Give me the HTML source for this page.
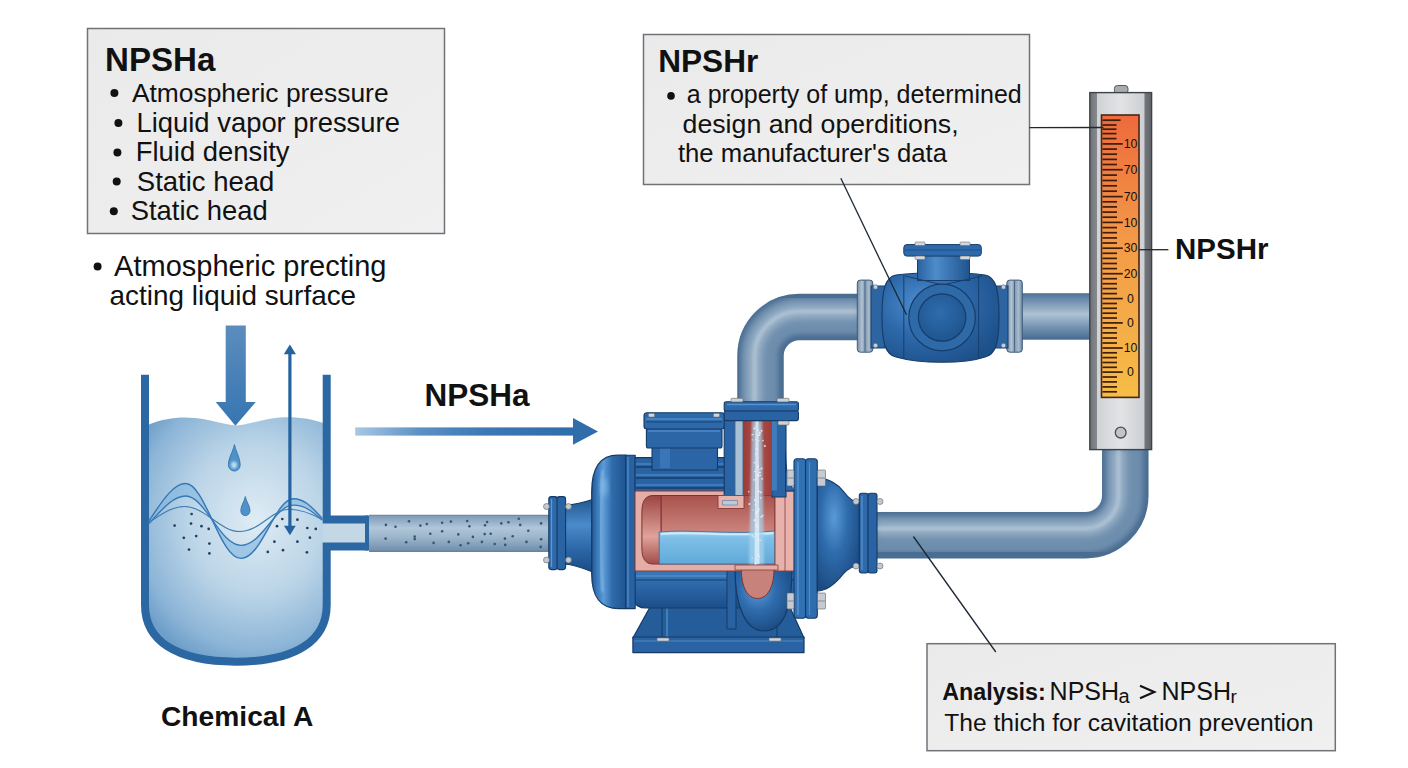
<!DOCTYPE html>
<html><head><meta charset="utf-8">
<style>
html,body{margin:0;padding:0;background:#ffffff;}
body{width:1408px;height:768px;overflow:hidden;position:relative;font-family:"Liberation Sans",sans-serif;}
svg{position:absolute;left:0;top:0;}
text{font-family:"Liberation Sans",sans-serif;fill:#111;}
.b{font-weight:bold;}
</style></head>
<body>
<svg width="1408" height="768" viewBox="0 0 1408 768">
<defs>
  <linearGradient id="boxg" x1="0" y1="0" x2="1" y2="1">
    <stop offset="0" stop-color="#eaeaea"/><stop offset="1" stop-color="#f0f0f0"/>
  </linearGradient>

  <radialGradient id="liq" cx="0.5" cy="0.42" r="0.62">
    <stop offset="0" stop-color="#dfecf4"/><stop offset="0.5" stop-color="#bad4e7"/><stop offset="0.85" stop-color="#8db5d7"/><stop offset="1" stop-color="#6f9fc9"/>
  </radialGradient>
  <linearGradient id="arrowDown" x1="0" y1="0" x2="0" y2="1">
    <stop offset="0" stop-color="#5c8cbd"/><stop offset="1" stop-color="#3676b2"/>
  </linearGradient>
  <linearGradient id="arrowRight" x1="0" y1="0" x2="1" y2="0">
    <stop offset="0" stop-color="#a8c8e2"/><stop offset="0.3" stop-color="#5a90c4"/><stop offset="0.6" stop-color="#3c78b4"/><stop offset="1" stop-color="#2f6dab"/>
  </linearGradient>
  <linearGradient id="sucPipe" x1="0" y1="0" x2="0" y2="1">
    <stop offset="0" stop-color="#7b98b4"/><stop offset="0.35" stop-color="#b0c6d9"/><stop offset="0.6" stop-color="#9db6cb"/><stop offset="1" stop-color="#6e8dab"/>
  </linearGradient>
  <linearGradient id="pipeH" x1="0" y1="0" x2="0" y2="1">
    <stop offset="0" stop-color="#4e7398"/><stop offset="0.2" stop-color="#7896b3"/><stop offset="0.45" stop-color="#aec2d4"/><stop offset="0.7" stop-color="#7a98b5"/><stop offset="1" stop-color="#456a90"/>
  </linearGradient>
  <linearGradient id="pipeV" x1="0" y1="0" x2="1" y2="0">
    <stop offset="0" stop-color="#4e7398"/><stop offset="0.2" stop-color="#7e9bb7"/><stop offset="0.4" stop-color="#b0c4d6"/><stop offset="0.7" stop-color="#6f8fae"/><stop offset="1" stop-color="#44698f"/>
  </linearGradient>
  <linearGradient id="gaugeWin" x1="0" y1="0" x2="0" y2="1">
    <stop offset="0" stop-color="#ee6a3c"/><stop offset="0.45" stop-color="#f39a48"/><stop offset="1" stop-color="#f6bd45"/>
  </linearGradient>
  <linearGradient id="gaugeHouse" x1="0" y1="0" x2="1" y2="0">
    <stop offset="0" stop-color="#6f7276"/><stop offset="0.11" stop-color="#85888c"/><stop offset="0.12" stop-color="#d0d2d5"/><stop offset="0.5" stop-color="#e2e3e5"/><stop offset="0.88" stop-color="#cdcfd2"/><stop offset="0.89" stop-color="#73767a"/><stop offset="1" stop-color="#606367"/>
  </linearGradient>

  <filter id="blur1" x="-20%" y="-20%" width="140%" height="140%"><feGaussianBlur stdDeviation="1"/></filter>
  <filter id="blur2" x="-20%" y="-20%" width="140%" height="140%"><feGaussianBlur stdDeviation="2.5"/></filter>
  <filter id="blur3" x="-20%" y="-20%" width="140%" height="140%"><feGaussianBlur stdDeviation="4"/></filter>
  <radialGradient id="valveBody" cx="0.35" cy="0.35" r="0.75">
    <stop offset="0" stop-color="#4f8fd0"/><stop offset="0.5" stop-color="#2c68a9"/><stop offset="1" stop-color="#1d4f88"/>
  </radialGradient>
  <radialGradient id="valveFace" cx="0.45" cy="0.4" r="0.6">
    <stop offset="0" stop-color="#2e6cad"/><stop offset="1" stop-color="#1f558f"/>
  </radialGradient>
  <linearGradient id="bonnet" x1="0" y1="0" x2="1" y2="0">
    <stop offset="0" stop-color="#2a62a0"/><stop offset="0.35" stop-color="#4d8ccb"/><stop offset="1" stop-color="#1f548e"/>
  </linearGradient>

  <linearGradient id="pbV" x1="0" y1="0" x2="0" y2="1">
    <stop offset="0" stop-color="#3c7bbd"/><stop offset="0.5" stop-color="#2a64a4"/><stop offset="1" stop-color="#1c4e88"/>
  </linearGradient>
  <linearGradient id="pbH" x1="0" y1="0" x2="1" y2="0">
    <stop offset="0" stop-color="#1f548f"/><stop offset="0.35" stop-color="#4f8fcd"/><stop offset="0.6" stop-color="#2d68a8"/><stop offset="1" stop-color="#1c4d85"/>
  </linearGradient>
  <linearGradient id="coverG" x1="0" y1="0" x2="1" y2="0">
    <stop offset="0" stop-color="#22558f"/><stop offset="0.12" stop-color="#3472b3"/><stop offset="0.35" stop-color="#5c9bd6"/><stop offset="0.6" stop-color="#2f6bab"/><stop offset="1" stop-color="#1f5590"/>
  </linearGradient>
  <linearGradient id="coneG" x1="0" y1="0" x2="0" y2="1">
    <stop offset="0" stop-color="#22578f"/><stop offset="0.35" stop-color="#4b8acb"/><stop offset="0.7" stop-color="#2b65a5"/><stop offset="1" stop-color="#1b4c84"/>
  </linearGradient>
  <radialGradient id="voluteG" cx="0.4" cy="0.35" r="0.7">
    <stop offset="0" stop-color="#5a9ad8"/><stop offset="0.45" stop-color="#2f6cad"/><stop offset="1" stop-color="#1a4a80"/>
  </radialGradient>
  <linearGradient id="redCyl" x1="0" y1="0" x2="0" y2="1">
    <stop offset="0" stop-color="#a9524d"/><stop offset="0.6" stop-color="#d08a83"/><stop offset="1" stop-color="#b56660"/>
  </linearGradient>
  <linearGradient id="redCap" x1="0" y1="0" x2="0" y2="1">
    <stop offset="0" stop-color="#9c4542"/><stop offset="0.6" stop-color="#e0a29b"/><stop offset="1" stop-color="#a24c48"/>
  </linearGradient>
  <linearGradient id="waterG" x1="0" y1="0" x2="0" y2="1">
    <stop offset="0" stop-color="#a8d6f0"/><stop offset="0.2" stop-color="#7fc0e8"/><stop offset="1" stop-color="#5faad9"/>
  </linearGradient>
  <linearGradient id="chanG" x1="0" y1="0" x2="1" y2="0">
    <stop offset="0" stop-color="#9a3b37"/><stop offset="0.5" stop-color="#b0504a"/><stop offset="1" stop-color="#9b3d39"/>
  </linearGradient>
  <linearGradient id="vflange" x1="0" y1="0" x2="1" y2="0">
    <stop offset="0" stop-color="#7690aa"/><stop offset="0.3" stop-color="#b3c3d2"/><stop offset="0.5" stop-color="#7f98b0"/><stop offset="0.75" stop-color="#a9bccd"/><stop offset="1" stop-color="#6f89a3"/>
  </linearGradient>
</defs>


<!-- ===== TANK ===== -->
<g id="tank">
  <path d="M145,424.5 L149,424.5 C165,418 180,416.5 195,418 C212,419.5 225,425 236,425.5 C248,425 262,419 280,417.5 C298,416.5 312,419 323,423 L323,546 L366,546 L366,523 L323,523 L326.7,546 L326.7,605 C326.7,640 297,661.7 236,661.7 C175,661.7 145,640 145,605 L145,424.5 Z" fill="url(#liq)"/>
  <rect x="323" y="523" width="44" height="23" fill="#c4d7e5"/>
  <path d="M145,374.7 V605 C145,640 175,661.7 236,661.7 C297,661.7 326.7,640 326.7,605 V546.5 H368" fill="none" stroke="#2b67a3" stroke-width="8"/>
  <path d="M326.7,374.7 V519.5 H368" fill="none" stroke="#2b67a3" stroke-width="8"/>
  <line x1="367" y1="515.5" x2="367" y2="550.5" stroke="#2b67a3" stroke-width="4"/>
  <!-- waves -->
  <path d="M148.9,521 C160,505 172,483.5 185.7,483.5 C205,483.5 220,558.4 240.9,558.4 C262,558.4 275,498.7 293.5,498.7 C306,498.7 314,510 322.4,518.4 L322.4,520.3 C314,513 306,505.2 293.5,505.2 C275,505.2 262,545.3 240.9,545.3 C220,545.3 205,496 185.7,496 C172,496 160,512 148.9,523.6 Z" fill="#7fb6e0" opacity="0.6"/>
  <path d="M148.9,521 C160,505 172,483.5 185.7,483.5 C205,483.5 220,558.4 240.9,558.4 C262,558.4 275,498.7 293.5,498.7 C306,498.7 314,510 322.4,518.4" fill="none" stroke="#3677b6" stroke-width="1.4"/>
  <path d="M148.9,523.6 C160,512 172,496 185.7,496 C205,496 220,545.3 240.9,545.3 C262,545.3 275,505.2 293.5,505.2 C306,505.2 314,513 322.4,520.3" fill="none" stroke="#3677b6" stroke-width="1.3"/>
  <path d="M148.9,522.3 C162,514 172,506.5 184.4,506.5 C205,506.5 220,531.5 239.6,531.5 C260,531.5 272,509.2 289.5,509.2 C303,509.2 314,515 322.4,519.7" fill="none" stroke="#3f7bb3" stroke-width="1.1"/>
  <g fill="#233f5c">
<circle cx="174.6" cy="525.6" r="1.35"/><circle cx="191.6" cy="514.0" r="1.35"/><circle cx="191.0" cy="523.6" r="1.35"/><circle cx="201.5" cy="526.2" r="1.35"/><circle cx="208.7" cy="528.9" r="1.35"/><circle cx="183.8" cy="537.8" r="1.35"/><circle cx="196.2" cy="536.1" r="1.35"/><circle cx="209.4" cy="543.6" r="1.35"/><circle cx="189.0" cy="549.6" r="1.35"/><circle cx="209.4" cy="553.4" r="1.35"/><circle cx="282.3" cy="519.0" r="1.35"/><circle cx="297.4" cy="519.7" r="1.35"/><circle cx="277.0" cy="526.2" r="1.35"/><circle cx="307.3" cy="528.0" r="1.35"/><circle cx="315.8" cy="528.9" r="1.35"/><circle cx="309.9" cy="537.7" r="1.35"/><circle cx="274.4" cy="541.7" r="1.35"/><circle cx="297.4" cy="541.7" r="1.35"/><circle cx="267.8" cy="551.9" r="1.35"/><circle cx="283.0" cy="550.2" r="1.35"/><circle cx="306.9" cy="552.3" r="1.35"/>
  </g>
  <!-- drops -->
  <path d="M234.4,444.6 C236,452 240.2,458 240.2,464.5 C240.2,468.5 237.6,471 234.4,471 C231.2,471 228.4,468.5 228.4,464.5 C228.4,458 232.8,452 234.4,444.6 Z" fill="#4f92c9" stroke="#2f6fae" stroke-width="0.8"/>
  <ellipse cx="234" cy="465" rx="3" ry="3.5" fill="#cfe8f7" opacity="0.85" filter="url(#blur1)"/>
  <path d="M245.3,496.5 C246.5,502 250,506 250,510.5 C250,513.5 248,515.6 245.3,515.6 C242.6,515.6 240.8,513.5 240.8,510.5 C240.8,506 244.1,502 245.3,496.5 Z" fill="#4f92c9" stroke="#2f6fae" stroke-width="0.8"/>
  <!-- down arrow -->
  <path d="M225.7,325.5 H245.8 V402 H255.8 L235.4,425.8 L215.7,402 H225.7 Z" fill="url(#arrowDown)"/>
  <!-- double arrow -->
  <rect x="288.3" y="353" width="3.2" height="174" fill="#2563a0"/>
  <path d="M289.9,344.6 L296,354.3 L283.8,354.3 Z" fill="#2563a0"/>
  <path d="M289.9,535.3 L295.8,525.7 L284,525.7 Z" fill="#2563a0"/>
</g>

<!-- NPSHa arrow -->
<rect x="355.2" y="427.4" width="218" height="8.2" fill="url(#arrowRight)"/>
<path d="M573,418 L598,431.4 L573,444.7 Z" fill="#2f6dab"/>

<!-- suction pipe -->
<rect x="369" y="514.9" width="181" height="36.9" fill="url(#sucPipe)"/>
<line x1="369" y1="515.3" x2="550" y2="515.3" stroke="#6f879d" stroke-width="0.9"/>
<line x1="369" y1="551.4" x2="550" y2="551.4" stroke="#5f7a94" stroke-width="0.9"/>
<g fill="#34567a">
<circle cx="385.9" cy="524.9" r="1.3"/><circle cx="395.5" cy="526.7" r="1.3"/><circle cx="409.0" cy="521.3" r="1.3"/><circle cx="420.4" cy="525.6" r="1.3"/><circle cx="426.8" cy="524.1" r="1.3"/><circle cx="442.1" cy="522.7" r="1.3"/><circle cx="450.9" cy="521.6" r="1.3"/><circle cx="467.2" cy="521.0" r="1.3"/><circle cx="469.4" cy="526.3" r="1.3"/><circle cx="485.0" cy="525.3" r="1.3"/><circle cx="487.1" cy="522.0" r="1.3"/><circle cx="501.3" cy="523.4" r="1.3"/><circle cx="508.4" cy="522.3" r="1.3"/><circle cx="518.8" cy="518.8" r="1.3"/><circle cx="520.2" cy="524.9" r="1.3"/><circle cx="541.1" cy="523.4" r="1.3"/><circle cx="430.3" cy="533.8" r="1.3"/><circle cx="442.1" cy="531.2" r="1.3"/><circle cx="458.3" cy="534.4" r="1.3"/><circle cx="484.7" cy="534.1" r="1.3"/><circle cx="490.7" cy="533.8" r="1.3"/><circle cx="528.3" cy="530.8" r="1.3"/><circle cx="385.6" cy="538.6" r="1.3"/><circle cx="414.7" cy="536.6" r="1.3"/><circle cx="414.7" cy="539.1" r="1.3"/><circle cx="406.2" cy="542.3" r="1.3"/><circle cx="433.6" cy="542.9" r="1.3"/><circle cx="448.8" cy="541.9" r="1.3"/><circle cx="460.6" cy="545.2" r="1.3"/><circle cx="468.2" cy="543.3" r="1.3"/><circle cx="472.9" cy="536.9" r="1.3"/><circle cx="481.9" cy="541.9" r="1.3"/><circle cx="494.7" cy="544.0" r="1.3"/><circle cx="504.9" cy="538.6" r="1.3"/><circle cx="512.7" cy="536.2" r="1.3"/><circle cx="505.2" cy="544.9" r="1.3"/><circle cx="526.5" cy="541.9" r="1.3"/><circle cx="541.1" cy="539.2" r="1.3"/><circle cx="540.7" cy="546.9" r="1.3"/>
</g>
<!-- ===== PIPES ===== -->
<g id="pipes">
  <!-- discharge elbow: vertical x 737.3-783.8, horizontal y 293.7-340.2 -->
  <path d="M760.5,405 V355.7 A38.8,38.8 0 0 1 799.3,317 H860" fill="none" stroke="#4a6d91" stroke-width="46.5"/>
  <path d="M759.5,405 V355.7 A39.8,39.8 0 0 1 799.3,316 H860" fill="none" stroke="#6e8eae" stroke-width="37" filter="url(#blur2)"/>
  <path d="M754.5,405 V355.7 A44.8,44.8 0 0 1 799.3,311.5 H860" fill="none" stroke="#a3b9cd" stroke-width="12" filter="url(#blur3)"/>
  <path d="M754.5,405 V355.7 A44.8,44.8 0 0 1 799.3,311.5 H860" fill="none" stroke="#b5c8d8" stroke-width="4" opacity="0.6" filter="url(#blur1)"/>
  <!-- valve to gauge pipe -->
  <rect x="1018" y="293.2" width="73" height="46.5" fill="url(#pipeH)"/>
  <!-- outlet pipe: horizontal y 512-558.5, vertical x 1103-1147.6 -->
  <path d="M875,535.25 H1085.4 A39.8,39.8 0 0 0 1125.3,495.5 V448" fill="none" stroke="#4a6d91" stroke-width="46.5"/>
  <path d="M875,534.25 H1085.4 A38.8,38.8 0 0 0 1124.3,495.5 V448" fill="none" stroke="#6e8eae" stroke-width="37" filter="url(#blur2)"/>
  <path d="M875,528.5 H1085.4 A33,33 0 0 0 1118.5,495.5 V448" fill="none" stroke="#a3b9cd" stroke-width="12" filter="url(#blur3)"/>
  <path d="M875,528.5 H1085.4 A33,33 0 0 0 1118.5,495.5 V448" fill="none" stroke="#b5c8d8" stroke-width="4" opacity="0.6" filter="url(#blur1)"/>
</g>

<!-- ===== GAUGE ===== -->
<g id="gauge">
  <rect x="1114.4" y="85.5" width="13.6" height="8" rx="3" fill="#a9acaf" stroke="#55585c" stroke-width="1"/>
  <rect x="1089.8" y="92.6" width="61.8" height="357" fill="url(#gaugeHouse)" stroke="#3f4246" stroke-width="1.4"/>
  <rect x="1101.5" y="115" width="37.5" height="282.4" fill="url(#gaugeWin)" stroke="#4a2616" stroke-width="1.6"/>
  <circle cx="1120.7" cy="432.6" r="5.4" fill="#c2c4c7" stroke="#4a4d51" stroke-width="1.3"/>
  <g stroke="#3d1c0c" stroke-width="1.7">
<line x1="1102.5" y1="143.9" x2="1122.8" y2="143.9"/><line x1="1102.5" y1="149.1" x2="1117.0" y2="149.1"/><line x1="1102.5" y1="154.2" x2="1117.0" y2="154.2"/><line x1="1102.5" y1="159.4" x2="1117.0" y2="159.4"/><line x1="1102.5" y1="164.5" x2="1117.0" y2="164.5"/><line x1="1102.5" y1="169.7" x2="1122.8" y2="169.7"/><line x1="1102.5" y1="175.1" x2="1117.0" y2="175.1"/><line x1="1102.5" y1="180.5" x2="1117.0" y2="180.5"/><line x1="1102.5" y1="185.8" x2="1117.0" y2="185.8"/><line x1="1102.5" y1="191.2" x2="1117.0" y2="191.2"/><line x1="1102.5" y1="196.6" x2="1122.8" y2="196.6"/><line x1="1102.5" y1="201.8" x2="1117.0" y2="201.8"/><line x1="1102.5" y1="206.9" x2="1117.0" y2="206.9"/><line x1="1102.5" y1="212.1" x2="1117.0" y2="212.1"/><line x1="1102.5" y1="217.2" x2="1117.0" y2="217.2"/><line x1="1102.5" y1="222.4" x2="1122.8" y2="222.4"/><line x1="1102.5" y1="227.6" x2="1117.0" y2="227.6"/><line x1="1102.5" y1="232.7" x2="1117.0" y2="232.7"/><line x1="1102.5" y1="237.9" x2="1117.0" y2="237.9"/><line x1="1102.5" y1="243.0" x2="1117.0" y2="243.0"/><line x1="1102.5" y1="248.2" x2="1122.8" y2="248.2"/><line x1="1102.5" y1="253.3" x2="1117.0" y2="253.3"/><line x1="1102.5" y1="258.4" x2="1117.0" y2="258.4"/><line x1="1102.5" y1="263.5" x2="1117.0" y2="263.5"/><line x1="1102.5" y1="268.6" x2="1117.0" y2="268.6"/><line x1="1102.5" y1="273.7" x2="1122.8" y2="273.7"/><line x1="1102.5" y1="278.7" x2="1117.0" y2="278.7"/><line x1="1102.5" y1="283.7" x2="1117.0" y2="283.7"/><line x1="1102.5" y1="288.6" x2="1117.0" y2="288.6"/><line x1="1102.5" y1="293.6" x2="1117.0" y2="293.6"/><line x1="1102.5" y1="298.6" x2="1122.8" y2="298.6"/><line x1="1102.5" y1="303.5" x2="1117.0" y2="303.5"/><line x1="1102.5" y1="308.3" x2="1117.0" y2="308.3"/><line x1="1102.5" y1="313.2" x2="1117.0" y2="313.2"/><line x1="1102.5" y1="318.0" x2="1117.0" y2="318.0"/><line x1="1102.5" y1="322.9" x2="1122.8" y2="322.9"/><line x1="1102.5" y1="327.9" x2="1117.0" y2="327.9"/><line x1="1102.5" y1="332.9" x2="1117.0" y2="332.9"/><line x1="1102.5" y1="338.0" x2="1117.0" y2="338.0"/><line x1="1102.5" y1="343.0" x2="1117.0" y2="343.0"/><line x1="1102.5" y1="348.0" x2="1122.8" y2="348.0"/><line x1="1102.5" y1="352.8" x2="1117.0" y2="352.8"/><line x1="1102.5" y1="357.6" x2="1117.0" y2="357.6"/><line x1="1102.5" y1="362.5" x2="1117.0" y2="362.5"/><line x1="1102.5" y1="367.3" x2="1117.0" y2="367.3"/><line x1="1102.5" y1="372.1" x2="1122.8" y2="372.1"/><line x1="1102.5" y1="377.0" x2="1117.0" y2="377.0"/><line x1="1102.5" y1="381.9" x2="1117.0" y2="381.9"/><line x1="1102.5" y1="386.9" x2="1117.0" y2="386.9"/><line x1="1102.5" y1="391.8" x2="1117.0" y2="391.8"/><line x1="1102.5" y1="120.2" x2="1120.6" y2="120.2"/><line x1="1102.5" y1="125" x2="1116.5" y2="125"/><line x1="1102.5" y1="129.2" x2="1116.5" y2="129.2"/><line x1="1102.5" y1="133.6" x2="1116.5" y2="133.6"/><line x1="1102.5" y1="138.6" x2="1116.5" y2="138.6"/>
  </g>
  <g>
<text x="1130.5" y="148.1" fill="#3a1a0a" font-size="12.3" text-anchor="middle">10</text>
<text x="1130.5" y="173.9" fill="#3a1a0a" font-size="12.3" text-anchor="middle">70</text>
<text x="1130.5" y="200.8" fill="#3a1a0a" font-size="12.3" text-anchor="middle">70</text>
<text x="1130.5" y="226.6" fill="#3a1a0a" font-size="12.3" text-anchor="middle">10</text>
<text x="1130.5" y="252.4" fill="#3a1a0a" font-size="12.3" text-anchor="middle">30</text>
<text x="1130.5" y="277.9" fill="#3a1a0a" font-size="12.3" text-anchor="middle">20</text>
<text x="1130.5" y="302.8" fill="#3a1a0a" font-size="12.3" text-anchor="middle">0</text>
<text x="1130.5" y="327.1" fill="#3a1a0a" font-size="12.3" text-anchor="middle">0</text>
<text x="1130.5" y="352.2" fill="#3a1a0a" font-size="12.3" text-anchor="middle">10</text>
<text x="1130.5" y="376.3" fill="#3a1a0a" font-size="12.3" text-anchor="middle">0</text>
  </g>
</g>

<!-- ===== VALVE ===== -->
<g id="valve">
  <!-- flanges -->
  <rect x="857.3" y="280.1" width="15.5" height="72.1" rx="3" fill="url(#vflange)" stroke="#3e5c7a" stroke-width="1"/>
  <line x1="865" y1="281" x2="865" y2="351.5" stroke="#4a6886" stroke-width="1"/>
  <rect x="1006.8" y="280.1" width="15.5" height="72.1" rx="3" fill="url(#vflange)" stroke="#3e5c7a" stroke-width="1"/>
  <line x1="1014.5" y1="281" x2="1014.5" y2="351.5" stroke="#4a6886" stroke-width="1"/>
  <!-- necks -->
  <rect x="871" y="286" width="14" height="62" fill="#2d65a3" stroke="#173f6d" stroke-width="1"/>
  <rect x="995" y="286" width="13" height="62" fill="#2d65a3" stroke="#173f6d" stroke-width="1"/>
  <!-- body -->
  <path d="M896,275 C920,272 965,272 985,275 C996,277 999,290 999,316 C999,343 996,354 985,357 C965,364 920,364 896,357 C885,354 882,343 882,316 C882,290 885,277 896,275 Z" fill="url(#valveBody)" stroke="#163d69" stroke-width="1.2"/>
  <line x1="903.8" y1="275" x2="903.8" y2="359" stroke="#173f6d" stroke-width="1"/>
  <line x1="978.6" y1="275" x2="978.6" y2="359" stroke="#173f6d" stroke-width="1"/>
  <!-- bonnet -->
  <rect x="917.5" y="254.5" width="52" height="26" fill="url(#bonnet)" stroke="#173f6d" stroke-width="1"/>
  <path d="M905,276 L943,285 L982,276" fill="none" stroke="#173f6d" stroke-width="1"/>
  <rect x="903.8" y="244.6" width="77.5" height="11.5" rx="3" fill="#2e6aab" stroke="#163d69" stroke-width="1"/>
  <line x1="905" y1="250" x2="980" y2="250" stroke="#1c4a80" stroke-width="0.8"/>
  <rect x="915" y="242" width="10" height="3.5" rx="1" fill="#d4d8dc" stroke="#6b7076" stroke-width="0.6"/>
  <rect x="960" y="242" width="10" height="3.5" rx="1" fill="#d4d8dc" stroke="#6b7076" stroke-width="0.6"/>
  <rect x="915" y="256" width="10" height="3.5" rx="1" fill="#d4d8dc" stroke="#6b7076" stroke-width="0.6"/>
  <rect x="960" y="256" width="10" height="3.5" rx="1" fill="#d4d8dc" stroke="#6b7076" stroke-width="0.6"/>
  <!-- front circle -->
  <circle cx="942.1" cy="317.5" r="33.3" fill="#2f6aa8" stroke="#163d69" stroke-width="1.2"/>
  <circle cx="942.1" cy="317.5" r="23.7" fill="url(#valveFace)" stroke="#163d69" stroke-width="1.2"/>
  <!-- bolts -->
  <g fill="#c9ced3" stroke="#596068" stroke-width="0.6">
    <circle cx="875.5" cy="287" r="2.3"/><circle cx="875.5" cy="345.5" r="2.3"/>
    <circle cx="1003.5" cy="287" r="2.3"/><circle cx="1003.5" cy="345.5" r="2.3"/>
  </g>
</g>


<!-- ===== PUMP ===== -->
<g id="pump" stroke-linejoin="round">
  <!-- base -->
  <path d="M650.6,606 L632.9,638 L804,638 L788.5,604 Z" fill="#255d9b" stroke="#143a66" stroke-width="1.2"/>
  <line x1="662" y1="606" x2="662" y2="638" stroke="#143a66" stroke-width="1"/>
  <line x1="667" y1="606" x2="667" y2="638" stroke="#3f7fbf" stroke-width="2"/>
  <line x1="777" y1="606" x2="777" y2="638" stroke="#143a66" stroke-width="1"/>
  <rect x="632.9" y="637" width="171.1" height="15.6" fill="#2a63a3" stroke="#143a66" stroke-width="1.2"/>
  <line x1="634" y1="641" x2="803" y2="641" stroke="#4c88c6" stroke-width="1.2"/>
  <rect x="657" y="638" width="12" height="3" rx="1" fill="#cfd4d9" stroke="#6b7178" stroke-width="0.5"/>
  <rect x="769" y="638" width="12" height="3" rx="1" fill="#cfd4d9" stroke="#6b7178" stroke-width="0.5"/>

  <!-- lower body -->
  <path d="M634,569 H796 V600 C796,606 790,608 784,608 H646 C640,608 634,605 634,600 Z" fill="url(#pbV)" stroke="#143a66" stroke-width="1.2"/>
  <line x1="636" y1="576" x2="794" y2="576" stroke="#5b97d2" stroke-width="1.5" opacity="0.7"/>
  <line x1="636" y1="580" x2="794" y2="580" stroke="#173f6d" stroke-width="1"/>
  <rect x="727" y="569" width="9" height="60" fill="#2862a2" stroke="#143a66" stroke-width="1"/>
  <!-- volute U under sump -->
  <path d="M735,569 C735,605 745,631 764,631 C784,631 792,606 792,569 Z" fill="url(#voluteG)" stroke="#143a66" stroke-width="1.2"/>

  <!-- inlet cone -->
  <path d="M565,505.5 C576,504.5 585,502 594,499 L594,572.5 C585,569 576,565 565,564 Z" fill="url(#coneG)" stroke="#143a66" stroke-width="1.2"/>
  <!-- inlet flange -->
  <rect x="548.8" y="496.6" width="8.6" height="73" rx="2.5" fill="#2e69aa" stroke="#143a66" stroke-width="1.1"/>
  <rect x="557" y="496.6" width="8.6" height="73" rx="2.5" fill="#2a63a2" stroke="#143a66" stroke-width="1.1"/>
  <line x1="551.5" y1="499" x2="551.5" y2="567" stroke="#5b98d4" stroke-width="1.3"/>
  <g fill="#c3c9cf" stroke="#5c636b" stroke-width="0.6">
    <circle cx="546.5" cy="506.5" r="3"/><circle cx="568.5" cy="506.5" r="3"/>
    <circle cx="546.5" cy="560" r="3"/><circle cx="568.5" cy="560" r="3"/>
  </g>

  <!-- left cover -->
  <path d="M626,455.2 H618 C600,455.2 591.7,469 591.7,492 V574 C591.7,597 600,608.6 619,608.6 H626 Z" fill="url(#coverG)" stroke="#143a66" stroke-width="1.2"/>
  <ellipse cx="604" cy="487" rx="4" ry="10" fill="#8cc0ec" opacity="0.55" filter="url(#blur2)"/>
  <path d="M603,470 C600,490 600,570 603,592" fill="none" stroke="#8fc0ea" stroke-width="3" opacity="0.6" filter="url(#blur1)"/>
  <rect x="625.7" y="455.2" width="9.5" height="153.4" fill="#2862a2" stroke="#143a66" stroke-width="1.1"/>
  <line x1="628" y1="457" x2="628" y2="607" stroke="#4d8bca" stroke-width="1.4"/>

  <!-- motor fins -->
  <rect x="635" y="457.6" width="90" height="34" fill="#2a63a3" stroke="#143a66" stroke-width="1.1"/>
  <path d="M636,467 H724 M636,478 H724 M636,488 H724" stroke="#163f6e" stroke-width="1.3"/>
  <path d="M636,464 H724 M636,475 H724 M636,485 H724" stroke="#4e8cca" stroke-width="1.6" opacity="0.8"/>

  <!-- motor top box -->
  <rect x="652" y="446" width="65.5" height="24" fill="#2b65a6" stroke="#143a66" stroke-width="1.1"/>
  <rect x="660" y="448" width="10" height="20" fill="#4a88c8" opacity="0.5"/>
  <rect x="646.4" y="428.5" width="75.6" height="19.5" rx="2" fill="#2c66a7" stroke="#143a66" stroke-width="1.1"/>
  <line x1="648" y1="431" x2="720" y2="431" stroke="#4d8bca" stroke-width="1.3"/>
  <rect x="644" y="412.7" width="80.5" height="16.3" rx="3" fill="#2e69aa" stroke="#143a66" stroke-width="1.1"/>
  <line x1="646" y1="419" x2="722" y2="419" stroke="#4f8dcc" stroke-width="1.5"/>
  <line x1="646" y1="422" x2="722" y2="422" stroke="#173f6d" stroke-width="0.9"/>
  <rect x="648.5" y="413.5" width="6" height="3.5" rx="1" fill="#d2d6da" stroke="#6a7077" stroke-width="0.5"/>
  <rect x="713.5" y="413.5" width="6" height="3.5" rx="1" fill="#d2d6da" stroke="#6a7077" stroke-width="0.5"/>

  <!-- red cutaway section -->
  <rect x="635" y="491" width="160" height="80" fill="#e4ada6" stroke="#8a3b38" stroke-width="1"/>
  <path d="M661,495.5 H775 V564 H661 Z" fill="url(#redCyl)" stroke="#7e3331" stroke-width="1"/>
  <path d="M661,495.5 H653 C645,495.5 641.9,502 641.9,512 V548 C641.9,558 645,564 653,564 H661 Z" fill="url(#redCap)" stroke="#7e3331" stroke-width="1"/>
  <path d="M659.2,532 C690,529 730,535 775,531 V564 H659.2 Z" fill="url(#waterG)" stroke="#3a6f9d" stroke-width="0.9"/>
  <path d="M661,534 C690,531 730,537 773,533" fill="none" stroke="#cfeaf8" stroke-width="2"/>
  <rect x="775" y="491" width="20" height="80" fill="#e6b2ab" stroke="#8a3b38" stroke-width="0.9"/>
  <line x1="785" y1="491" x2="785" y2="571" stroke="#8a3b38" stroke-width="0.8"/>
  <!-- sump -->
  <path d="M741.3,569 C741.3,588 748,598.5 757.5,598.5 C767,598.5 774,588 774,569 Z" fill="#c7837b" stroke="#7e3331" stroke-width="1"/>
  <rect x="735" y="565" width="43" height="5" fill="#e4ada6" stroke="#8a3b38" stroke-width="0.8"/>

  <!-- discharge neck -->
  <path d="M724.2,420.5 H786 V497 H771.9 V420.5 H743 V497 H724.2 Z" fill="#2b64a5" stroke="#143a66" stroke-width="1.1"/>
  <rect x="735" y="420.5" width="8" height="78" fill="#a9bfd4" stroke="#3a5f85" stroke-width="0.8"/>
  <rect x="771.9" y="420.5" width="5" height="70" fill="#3f7cbc"/>
  <rect x="743" y="420.5" width="28.9" height="75" fill="url(#chanG)"/>
  <path d="M718,495.5 H744 V508.5 H718 Z" fill="#e6b3ad" stroke="#8a3b38" stroke-width="0.9"/><rect x="722.5" y="500.5" width="15" height="4.5" fill="#bccbdb" stroke="#5a7590" stroke-width="0.6"/>
  <!-- water spray -->
  <path d="M752,420.5 L762,420.5 L764,564 L749,564 Z" fill="#a6d2ee" opacity="0.75" filter="url(#blur1)"/>
  <path d="M755.5,420.5 L758.5,420.5 L759.5,564 L754.5,564 Z" fill="#eaf6fc" opacity="0.7"/>
  <g fill="#e9f4fb" opacity="0.9"><circle cx="759.7" cy="469.3" r="0.6"/><circle cx="760.8" cy="540.4" r="0.6"/><circle cx="760.6" cy="475.3" r="0.6"/><circle cx="758.4" cy="435.3" r="0.8"/><circle cx="759.8" cy="433.0" r="1.0"/><circle cx="758.8" cy="440.7" r="0.6"/><circle cx="756.0" cy="513.2" r="1.0"/><circle cx="756.4" cy="479.7" r="0.6"/><circle cx="758.7" cy="429.7" r="0.6"/><circle cx="754.9" cy="500.3" r="1.0"/><circle cx="757.8" cy="467.1" r="1.0"/><circle cx="755.2" cy="504.7" r="0.6"/><circle cx="755.9" cy="476.3" r="0.6"/><circle cx="756.7" cy="511.5" r="0.8"/><circle cx="754.5" cy="520.3" r="1.0"/><circle cx="758.2" cy="555.1" r="0.8"/><circle cx="758.4" cy="465.9" r="0.6"/><circle cx="752.2" cy="434.7" r="0.8"/><circle cx="760.7" cy="498.1" r="0.8"/><circle cx="753.3" cy="510.1" r="0.6"/><circle cx="752.3" cy="439.9" r="0.6"/><circle cx="759.6" cy="556.5" r="0.8"/><circle cx="754.3" cy="428.6" r="1.0"/><circle cx="752.3" cy="535.8" r="0.8"/><circle cx="754.8" cy="471.6" r="0.8"/><circle cx="760.0" cy="432.8" r="0.6"/><circle cx="752.3" cy="558.1" r="0.6"/><circle cx="757.8" cy="527.6" r="0.8"/><circle cx="762.9" cy="515.5" r="0.8"/><circle cx="756.7" cy="525.5" r="1.0"/><circle cx="759.8" cy="472.6" r="1.0"/><circle cx="755.9" cy="439.7" r="0.6"/><circle cx="755.8" cy="454.2" r="0.8"/><circle cx="762.1" cy="478.9" r="0.8"/><circle cx="753.2" cy="434.5" r="0.6"/><circle cx="758.3" cy="540.2" r="1.0"/><circle cx="754.4" cy="462.8" r="0.8"/><circle cx="758.5" cy="560.0" r="0.6"/><circle cx="759.7" cy="434.9" r="0.6"/><circle cx="760.8" cy="492.3" r="1.0"/><circle cx="756.6" cy="449.1" r="1.0"/><circle cx="758.8" cy="475.8" r="1.0"/><circle cx="761.5" cy="468.6" r="1.0"/><circle cx="761.5" cy="516.7" r="1.0"/><circle cx="761.5" cy="430.7" r="1.0"/><circle cx="753.7" cy="537.1" r="0.8"/><circle cx="754.1" cy="479.9" r="0.8"/><circle cx="759.3" cy="431.9" r="0.6"/><circle cx="755.6" cy="563.8" r="1.0"/><circle cx="757.6" cy="430.5" r="0.6"/><circle cx="749.4" cy="504.1" r="1.0"/><circle cx="755.2" cy="426.6" r="0.6"/><circle cx="758.5" cy="510.8" r="0.8"/><circle cx="759.0" cy="509.1" r="0.8"/><circle cx="762.9" cy="440.6" r="0.8"/><circle cx="748.8" cy="491.7" r="0.8"/><circle cx="759.3" cy="435.3" r="0.8"/><circle cx="758.8" cy="491.4" r="1.0"/><circle cx="764.8" cy="446.1" r="1.0"/><circle cx="758.1" cy="474.7" r="1.0"/></g>
  <path d="M785.5,452 C786,474 789,485 795,491 L785.5,491 Z" fill="#2b64a5" stroke="#143a66" stroke-width="1"/>
  <!-- discharge flange -->
  <rect x="724.2" y="401.7" width="74.2" height="9.6" rx="2" fill="#2e69aa" stroke="#143a66" stroke-width="1.1"/>
  <rect x="724.2" y="411" width="74.2" height="9.6" rx="2" fill="#2a63a3" stroke="#143a66" stroke-width="1.1"/>
  <line x1="727" y1="404.5" x2="796" y2="404.5" stroke="#5592d0" stroke-width="1.3"/>
  <g fill="#cdd2d7" stroke="#60676e" stroke-width="0.6">
    <rect x="731" y="398.3" width="12" height="3.6" rx="1"/><rect x="777" y="398.3" width="12" height="3.6" rx="1"/>
    <rect x="778" y="421" width="11" height="4" rx="1"/>
  </g>

  <!-- right big flange -->
  <rect x="794" y="458.75" width="11.8" height="159.5" rx="3" fill="#3071b3" stroke="#143a66" stroke-width="1.1"/>
  <rect x="805.5" y="458.75" width="11.8" height="159.5" rx="3" fill="#2d6cad" stroke="#143a66" stroke-width="1.1"/>
  <line x1="798" y1="462" x2="798" y2="615" stroke="#5793d0" stroke-width="1.5"/>
  <line x1="809.5" y1="462" x2="809.5" y2="615" stroke="#4e8bc9" stroke-width="1.3"/>
  <!-- right bulb cone -->
  <path d="M817.3,478 C828,478 838,484 844,492 C849,499 854,502 859.5,503 L859.5,565 C854,566 849,568 844,573 C837,582 828,591 817.3,591 Z" fill="url(#voluteG)" stroke="#143a66" stroke-width="1.2"/>
  <g fill="#c5cbd1" stroke="#5c636b" stroke-width="0.6">
    <rect x="787" y="470" width="7" height="16" rx="1"/><rect x="817.5" y="470" width="8" height="16" rx="1"/>
    <rect x="787" y="593" width="7" height="16" rx="1"/><rect x="817.5" y="593" width="8" height="16" rx="1"/>
    <line x1="787.5" y1="478" x2="793.5" y2="478"/><line x1="818" y1="478" x2="825" y2="478"/>
    <line x1="787.5" y1="601" x2="793.5" y2="601"/><line x1="818" y1="601" x2="825" y2="601"/>
  </g>
  <!-- outlet flange -->
  <rect x="859.3" y="493.3" width="9" height="79.7" rx="2.5" fill="#2e69aa" stroke="#143a66" stroke-width="1.1"/>
  <rect x="868" y="493.3" width="9" height="79.7" rx="2.5" fill="#2a63a3" stroke="#143a66" stroke-width="1.1"/>
  <line x1="862" y1="496" x2="862" y2="570" stroke="#5592d0" stroke-width="1.3"/>
  <g fill="#c3c9cf" stroke="#5c636b" stroke-width="0.6">
    <circle cx="856" cy="501.5" r="3"/><circle cx="880" cy="501.5" r="3"/>
    <circle cx="856" cy="566" r="3"/><circle cx="880" cy="566" r="3"/>
  </g>
</g>

<!-- NPSHa box -->
<rect x="87.5" y="28.5" width="357" height="205" fill="url(#boxg)" stroke="#6f7378" stroke-width="1.5"/>
<text x="105.1" y="70.6" class="b" font-size="33.1">NPSHa</text>
<circle cx="114.4" cy="93" r="4" fill="#111"/>
<text x="131.9" y="102.1" font-size="26.4">Atmospheric pressure</text>
<circle cx="118.4" cy="123.1" r="4" fill="#111"/>
<text x="136.5" y="132.3" font-size="27.4">Liquid vapor pressure</text>
<circle cx="117.4" cy="152.6" r="4" fill="#111"/>
<text x="135.8" y="161.3" font-size="27.4">Fluid density</text>
<circle cx="116.7" cy="181.6" r="4" fill="#111"/>
<text x="136.8" y="190.7" font-size="27.5">Static head</text>
<circle cx="113.8" cy="211.3" r="4" fill="#111"/>
<text x="130.7" y="219.7" font-size="27.4">Static head</text>

<circle cx="97.6" cy="266.6" r="4" fill="#111"/>
<text x="114.1" y="275.7" font-size="29">Atmospheric precting</text>
<text x="109.6" y="304.5" font-size="27.9">acting liquid surface</text>

<!-- NPSHr box -->
<rect x="643.5" y="34.5" width="386" height="150" fill="url(#boxg)" stroke="#6f7378" stroke-width="1.5"/>
<text x="658.2" y="72.4" class="b" font-size="31.6">NPSHr</text>
<circle cx="671" cy="95.9" r="3.8" fill="#111"/>
<text x="686.8" y="103.4" font-size="25">a property of ump, determined</text>
<text x="682.6" y="133.1" font-size="26.7">design and operditions,</text>
<text x="677.9" y="161.5" font-size="25.7">the manufacturer's data</text>

<!-- Analysis box -->
<rect x="927" y="643.7" width="408.3" height="107" fill="url(#boxg)" stroke="#6f7378" stroke-width="1.5"/>
<text x="942.2" y="699.8" class="b" font-size="23.3">Analysis:</text>
<text x="1049.6" y="699.8" font-size="25">NPSH</text>
<text x="1118.5" y="702.5" font-size="20">a</text>
<path d="M1140,685.8 L1154.3,692 L1140,698.2" fill="none" stroke="#111" stroke-width="2.1" stroke-linejoin="miter"/>
<text x="1161.5" y="699.8" font-size="25">NPSH</text>
<text x="1230.5" y="703" font-size="19">r</text>
<text x="944.3" y="731" font-size="24.6">The thich for cavitation prevention</text>

<text x="424.4" y="406" class="b" font-size="31.5">NPSHa</text>
<text x="1175" y="259.1" class="b" font-size="29.5">NPSHr</text>
<text x="161" y="725.8" class="b" font-size="28.2">Chemical A</text>

<!-- leader lines -->
<g stroke="#1d2833" stroke-width="1.3" fill="none">
  <line x1="840.8" y1="178.3" x2="906.5" y2="314.8"/>
  <line x1="1029.5" y1="127.6" x2="1103.4" y2="127.5"/>
  <line x1="1139" y1="249.7" x2="1168.4" y2="249.7"/>
  <line x1="913.4" y1="536.5" x2="995.8" y2="652"/>
</g>
</svg>
</body></html>
